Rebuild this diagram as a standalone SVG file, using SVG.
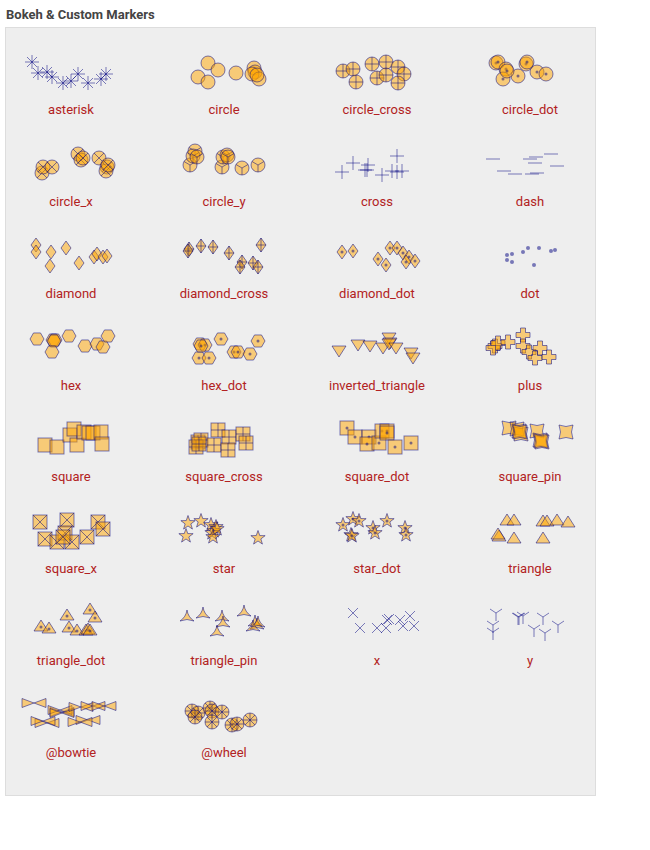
<svg xmlns="http://www.w3.org/2000/svg" xmlns:xlink="http://www.w3.org/1999/xlink" width="650" height="850" viewBox="0 0 650 850">
<style>
.f{fill:#ffa500;fill-opacity:.5;stroke:#000080;stroke-opacity:.5;stroke-width:1}
.l{fill:none;stroke:#000080;stroke-opacity:.5;stroke-width:1}
.d{fill:#000080;fill-opacity:.5}
.lab{font-family:Roboto,"Liberation Sans",sans-serif;font-size:13px;fill:#b22222;text-anchor:middle}
.title{font-family:Roboto,"Liberation Sans",sans-serif;font-size:13px;font-weight:bold;fill:#444}
</style>
<defs>
<g id="asterisk"><path class="l" d="M-7,0H7M0,-7V7M-5,-5L5,5M-5,5L5,-5"/></g>
<g id="circle"><circle class="f" r="7"/></g>
<g id="circle_cross"><circle class="f" r="7"/><path class="l" d="M-7,0H7M0,-7V7"/></g>
<g id="circle_dot"><circle class="f" r="7"/><circle class="d" r="1.5"/></g>
<g id="circle_x"><circle class="f" r="7"/><path class="l" d="M-4.95,-4.95L4.95,4.95M-4.95,4.95L4.95,-4.95"/></g>
<g id="circle_y"><circle class="f" r="7"/><path class="l" d="M0,0V7M0,0L-6.06,-3.5M0,0L6.06,-3.5"/></g>
<g id="cross"><path class="l" d="M-7,0H7M0,-7V7"/></g>
<g id="dash"><path class="l" d="M-7,0H7"/></g>
<g id="diamond"><path class="f" d="M0,-7L5,0L0,7L-5,0Z"/></g>
<g id="diamond_cross"><path class="f" d="M0,-7L5,0L0,7L-5,0Z"/><path class="l" d="M0,-7V7M-5,0H5"/></g>
<g id="diamond_dot"><path class="f" d="M0,-7L5,0L0,7L-5,0Z"/><circle class="d" r="1.5"/></g>
<g id="dot"><circle class="d" r="2"/></g>
<g id="hex"><path class="f" d="M-7,0L-3.5,-6.06L3.5,-6.06L7,0L3.5,6.06L-3.5,6.06Z"/></g>
<g id="hex_dot"><path class="f" d="M-7,0L-3.5,-6.06L3.5,-6.06L7,0L3.5,6.06L-3.5,6.06Z"/><circle class="d" r="1.5"/></g>
<g id="inverted_triangle"><path class="f" d="M-7,-4L7,-4L0,7Z"/></g>
<g id="plus"><path class="f" d="M-2.5,-7H2.5V-2.5H7V2.5H2.5V7H-2.5V2.5H-7V-2.5H-2.5Z"/></g>
<g id="square"><rect class="f" x="-7" y="-7" width="14" height="14"/></g>
<g id="square_cross"><rect class="f" x="-7" y="-7" width="14" height="14"/><path class="l" d="M-7,0H7M0,-7V7"/></g>
<g id="square_dot"><rect class="f" x="-7" y="-7" width="14" height="14"/><circle class="d" r="1.5"/></g>
<g id="square_pin"><path class="f" d="M-7,-7Q0,-4 7,-7Q4,0 7,7Q0,4 -7,7Q-4,0 -7,-7Z"/></g>
<g id="square_x"><rect class="f" x="-7" y="-7" width="14" height="14"/><path class="l" d="M-7,-7L7,7M-7,7L7,-7"/></g>
<g id="star"><path class="f" d="M0,-7.5L1.76,-2.43L7.13,-2.32L2.85,0.93L4.41,6.07L0,3L-4.41,6.07L-2.85,0.93L-7.13,-2.32L-1.76,-2.43Z"/></g>
<g id="star_dot"><path class="f" d="M0,-7.5L1.76,-2.43L7.13,-2.32L2.85,0.93L4.41,6.07L0,3L-4.41,6.07L-2.85,0.93L-7.13,-2.32L-1.76,-2.43Z"/><circle class="d" r="1.5"/></g>
<g id="triangle"><path class="f" d="M-7,4L7,4L0,-7Z"/></g>
<g id="triangle_dot"><path class="f" d="M-7,4L7,4L0,-7Z"/><circle class="d" r="1.5"/></g>
<g id="triangle_pin"><path class="f" d="M0,-7Q1,0 7,4Q0,1 -7,4Q-1,0 0,-7Z"/></g>
<g id="x"><path class="l" d="M-5,-5L5,5M-5,5L5,-5"/></g>
<g id="y"><path class="l" d="M0,0V8M0,0L-6,-4M0,0L6,-4"/></g>
<g id="bowtie"><path class="f" d="M-12,-4.5L0,0L-12,4.5Z"/><path class="f" d="M12,-4.5L0,0L12,4.5Z"/></g>
<g id="wheel"><circle class="f" r="7"/><path class="l" d="M-7,0H7M0,-7V7M-4.95,-4.95L4.95,4.95M-4.95,4.95L4.95,-4.95"/></g>
</defs>
<rect width="650" height="850" fill="#ffffff"/>
<text class="title" x="6" y="19">Bokeh &amp; Custom Markers</text>
<rect x="5.5" y="27.5" width="590" height="768" fill="#eeeeee" stroke="#dddddd"/>

<g id="cell-asterisk">
<use href="#asterisk" x="32" y="62"/><use href="#asterisk" x="38" y="73"/><use href="#asterisk" x="47" y="72"/><use href="#asterisk" x="52" y="77"/><use href="#asterisk" x="63" y="83"/><use href="#asterisk" x="71" y="81"/><use href="#asterisk" x="78" y="74"/><use href="#asterisk" x="88" y="83"/><use href="#asterisk" x="101" y="79"/><use href="#asterisk" x="106" y="74"/>
<text class="lab" x="71" y="114">asterisk</text></g>

<g id="cell-circle">
<use href="#circle" x="208" y="63"/><use href="#circle" x="218" y="70"/><use href="#circle" x="198" y="77"/><use href="#circle" x="208" y="82"/><use href="#circle" x="236" y="73"/><use href="#circle" x="254" y="68"/><use href="#circle" x="255" y="72"/><use href="#circle" x="252" y="74"/><use href="#circle" x="259" y="79"/><use href="#circle" x="257" y="75"/>
<text class="lab" x="224" y="114">circle</text></g>

<g id="cell-circle_cross">
<use href="#circle_cross" x="343" y="71"/><use href="#circle_cross" x="353" y="69"/><use href="#circle_cross" x="356" y="82"/><use href="#circle_cross" x="372" y="64"/><use href="#circle_cross" x="386" y="62"/><use href="#circle_cross" x="377" y="78"/><use href="#circle_cross" x="386" y="75"/><use href="#circle_cross" x="398" y="67"/><use href="#circle_cross" x="404" y="74"/><use href="#circle_cross" x="398" y="83"/>
<text class="lab" x="377" y="114">circle_cross</text></g>

<g id="cell-circle_dot">
<use href="#circle_dot" x="496" y="63"/><use href="#circle_dot" x="498" y="62"/><use href="#circle_dot" x="506" y="69"/><use href="#circle_dot" x="503" y="79"/><use href="#circle_dot" x="518" y="76"/><use href="#circle_dot" x="526" y="64"/><use href="#circle_dot" x="527" y="62"/><use href="#circle_dot" x="537" y="72"/><use href="#circle_dot" x="546" y="74"/><use href="#circle_dot" x="507" y="71"/>
<text class="lab" x="530" y="114">circle_dot</text></g>

<g id="cell-circle_x">
<use href="#circle_x" x="42" y="173"/><use href="#circle_x" x="43" y="167"/><use href="#circle_x" x="52" y="167"/><use href="#circle_x" x="78" y="154"/><use href="#circle_x" x="81" y="160"/><use href="#circle_x" x="83" y="158"/><use href="#circle_x" x="99" y="158"/><use href="#circle_x" x="107" y="167"/><use href="#circle_x" x="106" y="171"/><use href="#circle_x" x="108" y="165"/>
<text class="lab" x="71" y="206">circle_x</text></g>

<g id="cell-circle_y">
<use href="#circle_y" x="190" y="165"/><use href="#circle_y" x="195" y="151"/><use href="#circle_y" x="193" y="156"/><use href="#circle_y" x="197" y="157"/><use href="#circle_y" x="222" y="167"/><use href="#circle_y" x="223" y="157"/><use href="#circle_y" x="227" y="155"/><use href="#circle_y" x="228" y="157"/><use href="#circle_y" x="242" y="168"/><use href="#circle_y" x="258" y="165"/>
<text class="lab" x="224" y="206">circle_y</text></g>

<g id="cell-cross">
<use href="#cross" x="342" y="172"/><use href="#cross" x="353" y="163"/><use href="#cross" x="365" y="170"/><use href="#cross" x="368" y="165"/><use href="#cross" x="367" y="170"/><use href="#cross" x="382" y="175"/><use href="#cross" x="392" y="171"/><use href="#cross" x="397" y="156"/><use href="#cross" x="397" y="172"/><use href="#cross" x="402" y="171"/>
<text class="lab" x="377" y="206">cross</text></g>

<g id="cell-dash">
<use href="#dash" x="493" y="159"/><use href="#dash" x="504" y="171"/><use href="#dash" x="515" y="174"/><use href="#dash" x="530" y="159"/><use href="#dash" x="536" y="157"/><use href="#dash" x="535" y="163"/><use href="#dash" x="532" y="174"/><use href="#dash" x="537" y="173"/><use href="#dash" x="551" y="154"/><use href="#dash" x="557" y="166"/>
<text class="lab" x="530" y="206">dash</text></g>

<g id="cell-diamond">
<use href="#diamond" x="36" y="245"/><use href="#diamond" x="36" y="252"/><use href="#diamond" x="51" y="252"/><use href="#diamond" x="50" y="266"/><use href="#diamond" x="66" y="248"/><use href="#diamond" x="79" y="263"/><use href="#diamond" x="94" y="257"/><use href="#diamond" x="97" y="254"/><use href="#diamond" x="103" y="257"/><use href="#diamond" x="107" y="256"/>
<text class="lab" x="71" y="298">diamond</text></g>

<g id="cell-diamond_cross">
<use href="#diamond_cross" x="189" y="249"/><use href="#diamond_cross" x="188" y="251"/><use href="#diamond_cross" x="201" y="246"/><use href="#diamond_cross" x="213" y="247"/><use href="#diamond_cross" x="229" y="253"/><use href="#diamond_cross" x="261" y="245"/><use href="#diamond_cross" x="242" y="262"/><use href="#diamond_cross" x="240" y="267"/><use href="#diamond_cross" x="253" y="263"/><use href="#diamond_cross" x="258" y="267"/>
<text class="lab" x="224" y="298">diamond_cross</text></g>

<g id="cell-diamond_dot">
<use href="#diamond_dot" x="342" y="252"/><use href="#diamond_dot" x="353" y="251"/><use href="#diamond_dot" x="378" y="259"/><use href="#diamond_dot" x="386" y="265"/><use href="#diamond_dot" x="390" y="248"/><use href="#diamond_dot" x="397" y="248"/><use href="#diamond_dot" x="403" y="253"/><use href="#diamond_dot" x="409" y="257"/><use href="#diamond_dot" x="406" y="262"/><use href="#diamond_dot" x="415" y="261"/>
<text class="lab" x="377" y="298">diamond_dot</text></g>

<g id="cell-dot">
<use href="#dot" x="507" y="255"/><use href="#dot" x="512" y="254"/><use href="#dot" x="507" y="260"/><use href="#dot" x="512" y="262"/><use href="#dot" x="523" y="252"/><use href="#dot" x="528" y="248"/><use href="#dot" x="539" y="248"/><use href="#dot" x="534" y="265"/><use href="#dot" x="551" y="251"/><use href="#dot" x="555" y="250"/>
<text class="lab" x="530" y="298">dot</text></g>

<g id="cell-hex">
<use href="#hex" x="37" y="339"/><use href="#hex" x="53" y="340"/><use href="#hex" x="55" y="340"/><use href="#hex" x="54" y="341"/><use href="#hex" x="52" y="352"/><use href="#hex" x="69" y="336"/><use href="#hex" x="85" y="346"/><use href="#hex" x="97" y="344"/><use href="#hex" x="103" y="347"/><use href="#hex" x="108" y="336"/>
<text class="lab" x="71" y="390">hex</text></g>

<g id="cell-hex_dot">
<use href="#hex_dot" x="200" y="344"/><use href="#hex_dot" x="205" y="345"/><use href="#hex_dot" x="199" y="358"/><use href="#hex_dot" x="209" y="358"/><use href="#hex_dot" x="221" y="339"/><use href="#hex_dot" x="234" y="352"/><use href="#hex_dot" x="238" y="352"/><use href="#hex_dot" x="250" y="354"/><use href="#hex_dot" x="258" y="341"/><use href="#hex_dot" x="201" y="346"/>
<text class="lab" x="224" y="390">hex_dot</text></g>

<g id="cell-inverted_triangle">
<use href="#inverted_triangle" x="339" y="350"/><use href="#inverted_triangle" x="358" y="344"/><use href="#inverted_triangle" x="370" y="345"/><use href="#inverted_triangle" x="383" y="347"/><use href="#inverted_triangle" x="389" y="337"/><use href="#inverted_triangle" x="390" y="342"/><use href="#inverted_triangle" x="389" y="343"/><use href="#inverted_triangle" x="396" y="347"/><use href="#inverted_triangle" x="411" y="352"/><use href="#inverted_triangle" x="413" y="357"/>
<text class="lab" x="377" y="390">inverted_triangle</text></g>

<g id="cell-plus">
<use href="#plus" x="495" y="346"/><use href="#plus" x="493" y="348"/><use href="#plus" x="498" y="343"/><use href="#plus" x="508" y="342"/><use href="#plus" x="523" y="335"/><use href="#plus" x="523" y="346"/><use href="#plus" x="529" y="352"/><use href="#plus" x="540" y="348"/><use href="#plus" x="535" y="358"/><use href="#plus" x="549" y="357"/>
<text class="lab" x="530" y="390">plus</text></g>

<g id="cell-square">
<use href="#square" x="45" y="445"/><use href="#square" x="57" y="447"/><use href="#square" x="70" y="435"/><use href="#square" x="74" y="429"/><use href="#square" x="77" y="445"/><use href="#square" x="84" y="432"/><use href="#square" x="89" y="433"/><use href="#square" x="93" y="433"/><use href="#square" x="101" y="432"/><use href="#square" x="102" y="444"/>
<text class="lab" x="71" y="481">square</text></g>

<g id="cell-square_cross">
<use href="#square_cross" x="198" y="442"/><use href="#square_cross" x="201" y="440"/><use href="#square_cross" x="196" y="447"/><use href="#square_cross" x="214" y="445"/><use href="#square_cross" x="218" y="430"/><use href="#square_cross" x="229" y="437"/><use href="#square_cross" x="228" y="450"/><use href="#square_cross" x="243" y="434"/><use href="#square_cross" x="246" y="443"/><use href="#square_cross" x="199" y="444"/>
<text class="lab" x="224" y="481">square_cross</text></g>

<g id="cell-square_dot">
<use href="#square_dot" x="347" y="428"/><use href="#square_dot" x="355" y="437"/><use href="#square_dot" x="369" y="437"/><use href="#square_dot" x="367" y="444"/><use href="#square_dot" x="379" y="443"/><use href="#square_dot" x="382" y="431"/><use href="#square_dot" x="387" y="431"/><use href="#square_dot" x="387" y="433"/><use href="#square_dot" x="395" y="447"/><use href="#square_dot" x="411" y="443"/>
<text class="lab" x="377" y="481">square_dot</text></g>

<g id="cell-square_pin">
<use href="#square_pin" x="509" y="428"/><use href="#square_pin" x="517" y="429"/><use href="#square_pin" x="521" y="434"/><use href="#square_pin" x="519" y="431"/><use href="#square_pin" x="537" y="431"/><use href="#square_pin" x="540" y="440"/><use href="#square_pin" x="542" y="442"/><use href="#square_pin" x="541" y="441"/><use href="#square_pin" x="566" y="432"/><use href="#square_pin" x="520" y="432"/>
<text class="lab" x="530" y="481">square_pin</text></g>

<g id="cell-square_x">
<use href="#square_x" x="40" y="522"/><use href="#square_x" x="67" y="520"/><use href="#square_x" x="98" y="522"/><use href="#square_x" x="103" y="529"/><use href="#square_x" x="45" y="539"/><use href="#square_x" x="57" y="542"/><use href="#square_x" x="65" y="533"/><use href="#square_x" x="72" y="542"/><use href="#square_x" x="87" y="537"/><use href="#square_x" x="63" y="537"/>
<text class="lab" x="71" y="573">square_x</text></g>

<g id="cell-star">
<use href="#star" x="188" y="523"/><use href="#star" x="201" y="521"/><use href="#star" x="211" y="525"/><use href="#star" x="216" y="527"/><use href="#star" x="214" y="531"/><use href="#star" x="212" y="533"/><use href="#star" x="213" y="537"/><use href="#star" x="186" y="536"/><use href="#star" x="258" y="538"/><use href="#star" x="217" y="529"/>
<text class="lab" x="224" y="573">star</text></g>

<g id="cell-star_dot">
<use href="#star_dot" x="343" y="525"/><use href="#star_dot" x="353" y="519"/><use href="#star_dot" x="359" y="521"/><use href="#star_dot" x="351" y="535"/><use href="#star_dot" x="352" y="536"/><use href="#star_dot" x="373" y="528"/><use href="#star_dot" x="375" y="533"/><use href="#star_dot" x="387" y="521"/><use href="#star_dot" x="405" y="528"/><use href="#star_dot" x="406" y="535"/>
<text class="lab" x="377" y="573">star_dot</text></g>

<g id="cell-triangle">
<use href="#triangle" x="507" y="521"/><use href="#triangle" x="514" y="521"/><use href="#triangle" x="499" y="537"/><use href="#triangle" x="498" y="535"/><use href="#triangle" x="514" y="539"/><use href="#triangle" x="543" y="522"/><use href="#triangle" x="547" y="522"/><use href="#triangle" x="557" y="521"/><use href="#triangle" x="568" y="523"/><use href="#triangle" x="543" y="539"/>
<text class="lab" x="530" y="573">triangle</text></g>

<g id="cell-triangle_dot">
<use href="#triangle_dot" x="41" y="627"/><use href="#triangle_dot" x="49" y="629"/><use href="#triangle_dot" x="67" y="616"/><use href="#triangle_dot" x="69" y="628"/><use href="#triangle_dot" x="77" y="631"/><use href="#triangle_dot" x="90" y="610"/><use href="#triangle_dot" x="95" y="618"/><use href="#triangle_dot" x="86" y="631"/><use href="#triangle_dot" x="88" y="630"/><use href="#triangle_dot" x="90" y="631"/>
<text class="lab" x="71" y="665">triangle_dot</text></g>

<g id="cell-triangle_pin">
<use href="#triangle_pin" x="187" y="617"/><use href="#triangle_pin" x="203" y="614"/><use href="#triangle_pin" x="222" y="617"/><use href="#triangle_pin" x="223" y="623"/><use href="#triangle_pin" x="217" y="632"/><use href="#triangle_pin" x="244" y="612"/><use href="#triangle_pin" x="255" y="622"/><use href="#triangle_pin" x="257" y="625"/><use href="#triangle_pin" x="253" y="627"/><use href="#triangle_pin" x="258" y="623"/>
<text class="lab" x="224" y="665">triangle_pin</text></g>

<g id="cell-x">
<use href="#x" x="353" y="613"/><use href="#x" x="360" y="628"/><use href="#x" x="377" y="628"/><use href="#x" x="386" y="628"/><use href="#x" x="387" y="620"/><use href="#x" x="389" y="619"/><use href="#x" x="400" y="620"/><use href="#x" x="403" y="626"/><use href="#x" x="410" y="616"/><use href="#x" x="414" y="626"/>
<text class="lab" x="377" y="665">x</text></g>

<g id="cell-y">
<use href="#y" x="496" y="613"/><use href="#y" x="493" y="625"/><use href="#y" x="493" y="632"/><use href="#y" x="519" y="617"/><use href="#y" x="523" y="616"/><use href="#y" x="543" y="617"/><use href="#y" x="534" y="629"/><use href="#y" x="545" y="633"/><use href="#y" x="558" y="625"/><use href="#y" x="518" y="617"/>
<text class="lab" x="530" y="665">y</text></g>

<g id="cell-bowtie">
<use href="#bowtie" x="34" y="703"/><use href="#bowtie" x="62" y="712"/><use href="#bowtie" x="60" y="710"/><use href="#bowtie" x="62" y="713"/><use href="#bowtie" x="81" y="707"/><use href="#bowtie" x="93" y="706"/><use href="#bowtie" x="104" y="706"/><use href="#bowtie" x="47" y="723"/><use href="#bowtie" x="43" y="721"/><use href="#bowtie" x="88" y="720"/><use href="#bowtie" x="80" y="722"/>
<text class="lab" x="71" y="757">@bowtie</text></g>

<g id="cell-wheel">
<use href="#wheel" x="192" y="711"/><use href="#wheel" x="198" y="713"/><use href="#wheel" x="210" y="708"/><use href="#wheel" x="212" y="711"/><use href="#wheel" x="222" y="712"/><use href="#wheel" x="195" y="717"/><use href="#wheel" x="212" y="722"/><use href="#wheel" x="232" y="725"/><use href="#wheel" x="237" y="724"/><use href="#wheel" x="250" y="720"/>
<text class="lab" x="224" y="757">@wheel</text></g>
</svg>
